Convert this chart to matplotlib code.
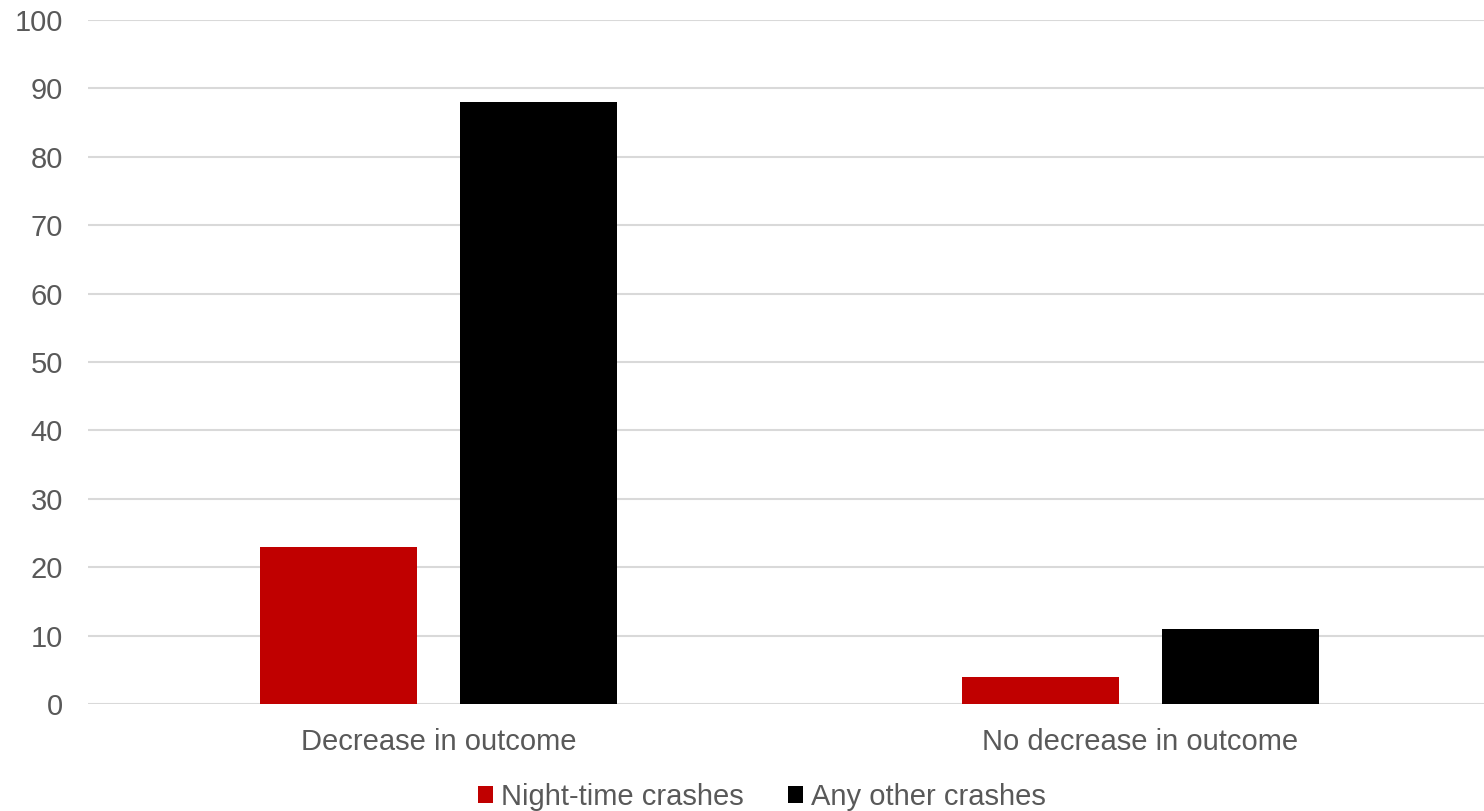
import matplotlib
matplotlib.use("Agg")
import matplotlib.pyplot as plt
import numpy as np

categories = ["Decrease in outcome", "No decrease in outcome"]
night_time = [23, 4]
other = [88, 11]
series_names = ["Night-time crashes", "Any other crashes"]
yticks = [0, 10, 20, 30, 40, 50, 60, 70, 80, 90, 100]

plt.rcParams["font.family"] = ["Liberation Sans", "DejaVu Sans"]
text_color = "#595959"
fsize = 21

fig = plt.figure(figsize=(14.84, 8.11), dpi=100)
ax = fig.add_axes([88 / 1484, 1 - 704 / 811, (1491 - 88) / 1484, (704 - 20) / 811])

x = np.arange(len(categories))
width = 0.224
offset = 0.1426
ax.bar(x - offset, night_time, width, color="#C00000", label=series_names[0], zorder=3)
ax.bar(x + offset, other, width, color="#000000", label=series_names[1], zorder=3)

ax.set_xlim(-0.5, len(categories) - 0.5)
ax.set_ylim(0, 100)
ax.set_yticks(yticks)
ax.set_xticks(x)
ax.set_xticklabels(categories)
ax.yaxis.grid(True, color="#D9D9D9", linewidth=1.5, zorder=0)
ax.set_axisbelow(True)
for s in ax.spines.values():
    s.set_visible(False)
ax.tick_params(axis="both", length=0, labelsize=fsize, colors=text_color)
ax.tick_params(axis="y", pad=18)
ax.tick_params(axis="x", pad=17)

leg = fig.legend(loc="center", bbox_to_anchor=(762 / 1484, 1 - 797 / 811), ncol=2,
                 frameon=False, fontsize=fsize, handlelength=0.52, handleheight=0.52,
                 handletextpad=0.28, columnspacing=1.5)
for t in leg.get_texts():
    t.set_color(text_color)

fig.savefig("out.png", dpi=100, facecolor="white")
